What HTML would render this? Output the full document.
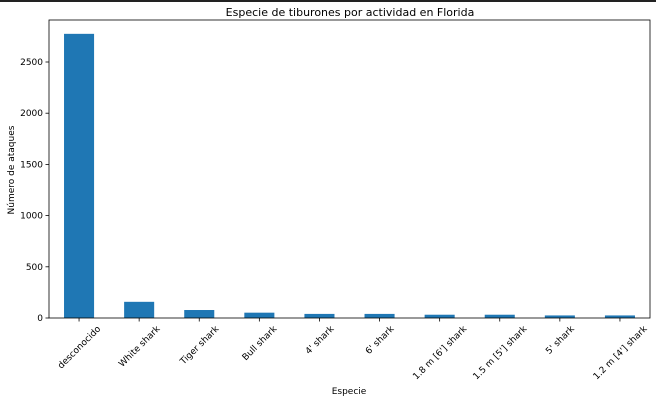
<!DOCTYPE html>
<html><head><meta charset="utf-8"><style>
body{margin:0;background:#fff;}
svg{display:block;font-family:"DejaVu Sans","Liberation Sans",sans-serif;}
</style></head><body>
<svg id="chart" width="656" height="401">
<rect x="0" y="0" width="656" height="2" fill="#222"/>
<text x="350" y="16" text-anchor="middle" font-size="11" fill="#000">Especie de tiburones por actividad en Florida</text>
<text transform="translate(14,170) rotate(-90)" text-anchor="middle" font-size="9">Número de ataques</text>
<text x="349" y="394" text-anchor="middle" font-size="9">Especie</text>
<g id="bars"></g><g id="axes"></g>
</svg>
<script>
const categories=["desconocido","White shark","Tiger shark","Bull shark","4' shark","6' shark","1.8 m [6'] shark","1.5 m [5'] shark","5' shark","1.2 m [4'] shark"];
const values=[2775,158,78,52,40,40,32,32,25,25];
const yTicks=[0,500,1000,1500,2000,2500];
const L=49,R=650,T=20,B=318;
const ns="http://www.w3.org/2000/svg";
function y(v){return B-v*(B-62)/2500;}
function xc(i){return L+(R-L)/categories.length*(i+0.5);}
const bw=(R-L)/categories.length*0.5;
const bars=document.getElementById('bars'),axes=document.getElementById('axes');
function mk(t,a,p){const e=document.createElementNS(ns,t);for(const k in a)e.setAttribute(k,a[k]);p.appendChild(e);return e;}
values.forEach((v,i)=>{
const r=mk('rect',{x:xc(i)-bw/2,y:y(v),width:bw,height:B-y(v),fill:'#1f77b4'},bars);


const tk=mk('line',{x1:xc(i),x2:xc(i),y1:B,y2:B+3.5,stroke:'#000','stroke-width':0.8},axes);


const tx=mk('text',{'text-anchor':'middle','font-size':9},axes);
tx.textContent=categories[i];


const len=tx.getComputedTextLength();
const half=(len+9)*0.7071/2;
const cy=B+6+half;
tx.setAttribute('transform',`translate(${xc(i)},${cy}) rotate(-45)`);
tx.setAttribute('y',3);
});
yTicks.forEach(v=>{
const tk=mk('line',{x1:L-3.5,x2:L,y1:y(v),y2:y(v),stroke:'#000','stroke-width':0.8},axes);


const tx=mk('text',{x:L-6,y:y(v)+3,'text-anchor':'end','font-size':9},axes);
tx.textContent=v;


});
const f=mk('rect',{x:L,y:T,width:R-L,height:B-T,fill:'none',stroke:'#000','stroke-width':0.8},axes);


</script>
</body></html>
